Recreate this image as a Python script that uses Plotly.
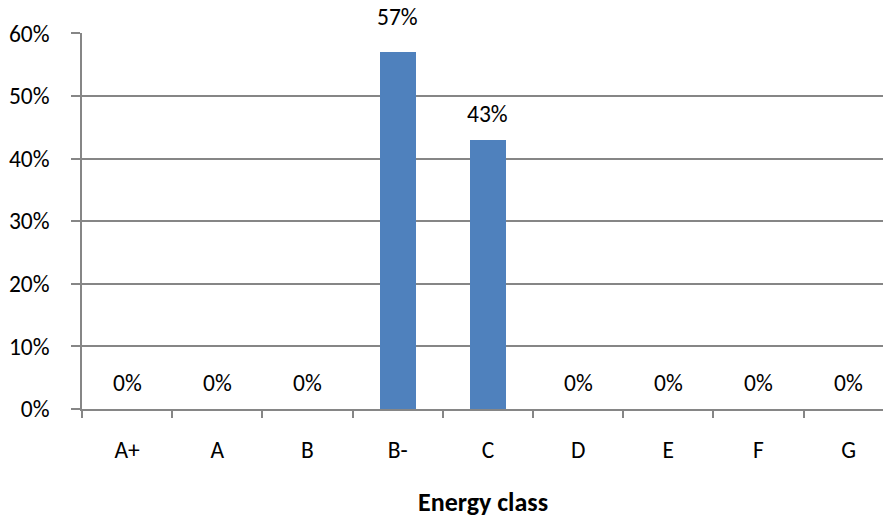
import plotly.graph_objects as go

# Share of buildings per energy class
classes = ["A+", "A", "B", "B-", "C", "D", "E", "F", "G"]
shares = [0.0, 0.0, 0.0, 0.57, 0.43, 0.0, 0.0, 0.0, 0.0]
y_ticks = [0.0, 0.1, 0.2, 0.3, 0.4, 0.5, 0.6]
y_tick_text = ["0%", "10%", "20%", "30%", "40%", "50%", "60%"]

# vertical offset (px) of each value label above its bar
label_shift = [26, 26, 26, 35, 26, 26, 26, 26, 26]

FONT = "Carlito, Lato, 'Open Sans', sans-serif"
FSIZE = 23.5
GRID = "#868686"
BAR = "#4F81BD"

fig = go.Figure()
fig.add_trace(go.Bar(
    x=classes,
    y=shares,
    width=0.4,
    marker=dict(color=BAR, line=dict(width=0)),
    hoverinfo="skip",
))

for i, (c, v) in enumerate(zip(classes, shares)):
    fig.add_annotation(
        x=c, y=v, xref="x", yref="y",
        text=f"{round(v * 100)}%",
        showarrow=False, yshift=label_shift[i],
        font=dict(family=FONT, size=FSIZE, color="black"),
    )

fig.add_annotation(
    x=0.5, y=0, xref="paper", yref="paper",
    yshift=-93, yanchor="middle",
    text="<b>Energy class</b>", showarrow=False,
    font=dict(family=FONT, size=26, color="black"),
)

fig.update_layout(
    width=883, height=517,
    margin=dict(l=82, r=0, t=33, b=107.5),
    paper_bgcolor="white", plot_bgcolor="white",
    showlegend=False,
    font=dict(family=FONT, size=FSIZE, color="black"),
    bargap=0,
)
fig.update_xaxes(
    type="category",
    categoryorder="array", categoryarray=classes,
    range=[-0.5, 8.38],
    tickson="boundaries",
    ticks="outside", ticklen=7, tickcolor=GRID, tickwidth=1.5,
    showline=True, linecolor=GRID, linewidth=1.5,
    showgrid=False, zeroline=False,
    ticklabelstandoff=19,
    tickfont=dict(family=FONT, size=FSIZE, color="black"),
)
fig.update_yaxes(
    range=[0, 0.6005],
    tickmode="array", tickvals=y_ticks, ticktext=y_tick_text,
    ticks="outside", ticklen=9, tickcolor=GRID, tickwidth=1.5,
    showline=True, linecolor=GRID, linewidth=1.5,
    showgrid=True, gridcolor=GRID, gridwidth=1.5,
    zeroline=False,
    ticklabelstandoff=17,
    tickfont=dict(family=FONT, size=FSIZE, color="black"),
)

fig.write_html("out.html")
